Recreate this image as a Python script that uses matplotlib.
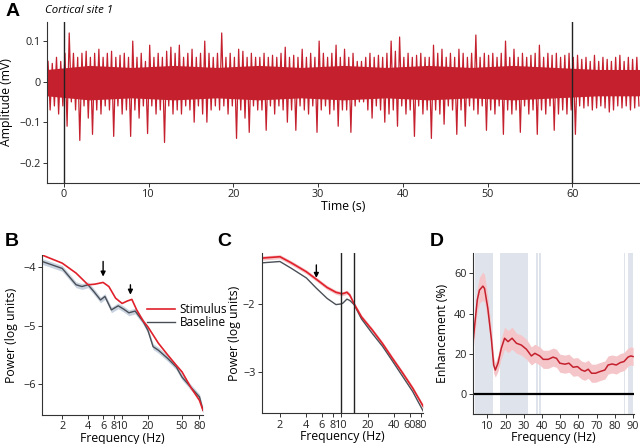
import numpy as np
import matplotlib
matplotlib.use("Agg")
import matplotlib.pyplot as plt
from matplotlib.ticker import FixedLocator, NullLocator

plt.rcParams["font.family"] = ["Open Sans", "DejaVu Sans"]
plt.rcParams["font.size"] = 8

RED = "#c4202d"
GRAY = "#4a4f57"
BAND = "#dfe4ec"
LABEL_SIZE = 8.8
TICK_SIZE = 7.8

# ---- A: raw trace, peak / trough per 0.5 s bin (mV), bins start at -2 s
trace_t0 = -2.0
trace_bin = 0.5
trace_hi = [
    0.05, 0.045, 0.06, 0.05, 0.07, 0.12, 0.07, 0.06, 0.07, 0.075,
    0.06, 0.07, 0.08, 0.06, 0.07, 0.075, 0.06, 0.065, 0.07, 0.06,
    0.10, 0.06, 0.07, 0.05, 0.09, 0.06, 0.07, 0.06, 0.075, 0.085,
    0.07, 0.09, 0.06, 0.07, 0.08, 0.06, 0.07, 0.10, 0.07, 0.06,
    0.07, 0.12, 0.06, 0.07, 0.06, 0.08, 0.075, 0.06, 0.07, 0.06,
    0.06, 0.07, 0.06, 0.065, 0.06, 0.07, 0.085, 0.06, 0.065, 0.06,
    0.08, 0.06, 0.07, 0.06, 0.10, 0.07, 0.06, 0.07, 0.09, 0.06,
    0.08, 0.06, 0.07, 0.05, 0.05, 0.06, 0.07, 0.06, 0.065, 0.06,
    0.07, 0.10, 0.075, 0.11, 0.06, 0.07, 0.06, 0.065, 0.07, 0.06,
    0.06, 0.09, 0.07, 0.08, 0.06, 0.07, 0.06, 0.08, 0.07, 0.06,
    0.07, 0.115, 0.06, 0.07, 0.065, 0.07, 0.06, 0.07, 0.10, 0.06,
    0.08, 0.06, 0.07, 0.06, 0.065, 0.07, 0.09, 0.06, 0.07, 0.065,
    0.07, 0.06, 0.065, 0.07, 0.06, 0.065, 0.055, 0.06, 0.05, 0.065,
    0.05, 0.06, 0.055, 0.05, 0.06, 0.065, 0.05, 0.06, 0.055, 0.06,
]
trace_lo = [
    -0.07, -0.06, -0.08, -0.06, -0.11, -0.05, -0.07, -0.145, -0.06, -0.09,
    -0.13, -0.07, -0.08, -0.06, -0.07, -0.135, -0.06, -0.08, -0.07, -0.135,
    -0.07, -0.09, -0.06, -0.128, -0.06, -0.08, -0.07, -0.15, -0.06, -0.08,
    -0.07, -0.08, -0.06, -0.07, -0.10, -0.06, -0.08, -0.10, -0.07, -0.06,
    -0.07, -0.06, -0.08, -0.06, -0.14, -0.07, -0.09, -0.125, -0.06, -0.07,
    -0.07, -0.12, -0.06, -0.08, -0.06, -0.07, -0.10, -0.07, -0.12, -0.06,
    -0.07, -0.08, -0.06, -0.125, -0.07, -0.06, -0.08, -0.07, -0.11, -0.07,
    -0.07, -0.125, -0.06, -0.05, -0.05, -0.07, -0.09, -0.06, -0.07, -0.10,
    -0.08, -0.07, -0.11, -0.06, -0.08, -0.07, -0.135, -0.06, -0.08, -0.07,
    -0.14, -0.07, -0.08, -0.105, -0.06, -0.07, -0.13, -0.07, -0.11, -0.06,
    -0.07, -0.08, -0.06, -0.12, -0.07, -0.08, -0.06, -0.13, -0.07, -0.08,
    -0.07, -0.125, -0.06, -0.08, -0.07, -0.13, -0.07, -0.08, -0.06, -0.12,
    -0.08, -0.07, -0.08, -0.07, -0.13, -0.06, -0.065, -0.06, -0.07, -0.065,
    -0.06, -0.065, -0.075, -0.07, -0.06, -0.065, -0.06, -0.07, -0.065, -0.06,
]
# dense core of the trace, read at 5 s steps from -2 s
core_bin = 5.0
core_hi = [0.03, 0.04, 0.035, 0.04, 0.035, 0.04, 0.035, 0.04, 0.035,
           0.04, 0.035, 0.04, 0.035, 0.03, 0.03]
core_lo = [-0.035, -0.045, -0.04, -0.045, -0.04, -0.045, -0.04, -0.045,
           -0.04, -0.045, -0.04, -0.045, -0.04, -0.035, -0.035]
stim_marks = [0, 60]

# ---- B: power spectra, cortical site (log units)
b_freq_stim = [1.16, 2, 2.9, 4, 4.8, 6, 7, 8.4, 10, 11.4, 13, 14.8, 17.6,
               20, 26.5, 34, 43, 50, 63, 80, 88]
b_stim = [-3.79, -3.93, -4.10, -4.30, -4.29, -4.26, -4.33, -4.53, -4.62,
          -4.58, -4.55, -4.73, -4.92, -5.02, -5.30, -5.50, -5.68, -5.79,
          -6.05, -6.28, -6.45]
b_freq_base = [1.16, 2, 2.9, 3.4, 4, 4.7, 5.6, 6.3, 7.5, 9, 10.5, 12, 14.2,
               17.6, 20, 23, 26.5, 34, 43, 50, 63, 80, 88]
b_base = [-3.90, -4.02, -4.30, -4.33, -4.30, -4.42, -4.56, -4.50, -4.73,
          -4.66, -4.72, -4.78, -4.75, -4.93, -5.08, -5.36, -5.42, -5.56,
          -5.71, -5.88, -6.05, -6.22, -6.45]
b_base_sem = 0.05
b_arrows = [(6, -3.90, -4.16), (12.5, -4.30, -4.47)]
b_ticks = [2, 4, 6, 8, 10, 20, 50, 80]

# ---- C: power spectra, second recording (log units)
c_freq = [1.24, 2, 2.7, 4, 5.2, 6.9, 8.7, 10, 10.4, 11.6, 12.5, 14, 17,
          22.5, 29.5, 38.5, 50, 65, 86]
c_stim = [-1.33, -1.31, -1.40, -1.53, -1.64, -1.76, -1.83, -1.85, -1.85,
          -1.83, -1.87, -2.00, -2.19, -2.38, -2.58, -2.80, -3.01, -3.23,
          -3.50]
c_base = [-1.40, -1.38, -1.48, -1.62, -1.77, -1.92, -2.01, -2.00, -1.99,
          -1.93, -1.95, -2.01, -2.22, -2.43, -2.62, -2.84, -3.06, -3.28,
          -3.57]
c_stim_sem = 0.03
c_bounds = [10, 14]
c_arrow = (5.2, -1.43, -1.62)
c_ticks = [2, 4, 6, 8, 10, 20, 40, 60, 80]

# ---- D: enhancement (%)
d_freq = [2.1, 3, 4.5, 5.7, 7.6, 8.5, 10.3, 12.3, 13.5, 14.4, 15.9, 17.7,
          19.5, 21.4, 23.6, 26, 28.7, 31.5, 34.2, 36.1, 38.8, 40.7, 43.4,
          46.1, 48, 49.8, 52.6, 54.8, 57.1, 59.5, 61.7, 63.5, 65.4, 67.2,
          69.4, 71.7, 74.5, 76.3, 78.5, 80.8, 83, 85, 87.2, 88.7, 90]
d_enh = [25.3, 33.5, 46.8, 51.7, 53.7, 52.5, 42.6, 26.9, 14.5, 12.0, 15.4,
         22.8, 27.8, 26.1, 27.8, 25.3, 24.4, 22.3, 19.0, 20.3, 19.0, 17.3,
         17.3, 18.4, 17.8, 15.4, 14.9, 15.4, 13.4, 13.7, 12.0, 11.4, 12.4,
         10.4, 10.4, 11.2, 12.0, 14.5, 15.0, 14.5, 15.7, 16.2, 18.4, 19.0,
         18.7]
d_sem = [4, 5, 6, 6.5, 7, 7, 6, 5, 4, 3.5, 4, 5, 5.5, 5.5, 5.5, 5, 5, 5,
         4.5, 4.5, 4.5, 4.5, 4.5, 4.5, 4.5, 4.5, 4.5, 4.5, 4.5, 4.5, 4.5,
         4.5, 4.5, 4.5, 4.5, 4.5, 4.5, 4.5, 4.5, 4.5, 4.5, 4.5, 4.5, 4.5,
         4.5]
d_sig_bands = [(3.3, 13.3), (17, 32.5), (37, 38), (38.5, 39.4),
               (84.9, 85.7), (87.3, 90)]


def style_axes(ax):
    for side in ("top", "right"):
        ax.spines[side].set_visible(False)
    for side in ("left", "bottom"):
        ax.spines[side].set_color("#333333")
        ax.spines[side].set_linewidth(0.8)
    ax.tick_params(direction="out", length=3, width=0.7, colors="#333333",
                   labelcolor="#222222", labelsize=TICK_SIZE, pad=1.5)


def log_freq_axis(ax, ticks, lim):
    ax.set_xscale("log")
    ax.set_xlim(*lim)
    ax.xaxis.set_major_locator(FixedLocator(ticks))
    ax.xaxis.set_minor_locator(NullLocator())
    ax.set_xticklabels([str(t) for t in ticks])


def down_arrow(ax, x, y0, y1):
    ax.annotate("", xy=(x, y1), xytext=(x, y0),
                arrowprops=dict(arrowstyle="-|>", color="black", lw=1.0,
                                mutation_scale=7, shrinkA=0, shrinkB=0))


fig = plt.figure(figsize=(6.4, 4.44), dpi=100)

# A
axA = fig.add_axes([0.0734, 0.5878, 0.9266, 0.3626])
core_t = trace_t0 + core_bin * np.arange(len(core_hi))
axA.fill_between(core_t, core_hi, core_lo, color=RED, lw=0)
n = len(trace_hi)
idx = np.arange(n)
t_hi = trace_t0 + trace_bin * idx + 0.125
t_lo = trace_t0 + trace_bin * idx + 0.375
t_all = np.ravel(np.column_stack([t_hi, t_lo]))
v_all = np.ravel(np.column_stack([trace_hi, trace_lo]))
axA.plot(t_all, v_all, color=RED, lw=0.9)
for m in stim_marks:
    axA.axvline(m, color="#222222", lw=1.0, zorder=3)
axA.set_xlim(-2, 68)
axA.set_ylim(-0.25, 0.147)
axA.set_xticks([0, 10, 20, 30, 40, 50, 60])
axA.set_yticks([0.1, 0, -0.1, -0.2])
axA.set_yticklabels(["0.1", "0", "\u22120.1", "\u22120.2"])
style_axes(axA)
axA.set_xlabel("Time (s)", fontsize=LABEL_SIZE, labelpad=0)
axA.set_ylabel("Amplitude (mV)", fontsize=LABEL_SIZE)
axA.yaxis.set_label_coords(-0.057, 0.5)

# B
axB = fig.add_axes([0.0656, 0.0653, 0.2516, 0.3604])
bf = np.array(b_freq_base)
bb = np.array(b_base)
axB.fill_between(bf, bb - b_base_sem, bb + b_base_sem, color="#c9d3e0",
                 lw=0)
axB.plot(bf, bb, color=GRAY, lw=1.0, label="Baseline")
axB.plot(b_freq_stim, b_stim, color="#e0202a", lw=1.2, label="Stimulus")
for x, y0, y1 in b_arrows:
    down_arrow(axB, x, y0, y1)
log_freq_axis(axB, b_ticks, (1.16, 88))
axB.set_ylim(-6.53, -3.79)
axB.set_yticks([-4, -5, -6])
axB.set_yticklabels(["\u22124", "\u22125", "\u22126"])
style_axes(axB)
axB.set_xlabel("Frequency (Hz)", fontsize=LABEL_SIZE, labelpad=-0.5)
axB.set_ylabel("Power (log units)", fontsize=LABEL_SIZE)
axB.yaxis.set_label_coords(-0.15, 0.5)
h, l = axB.get_legend_handles_labels()
axB.legend(h[::-1], l[::-1], loc="upper left",
           bbox_to_anchor=(0.62, 0.73), frameon=False, fontsize=8.5,
           handlelength=2.4, handletextpad=0.4, labelspacing=0.0,
           borderaxespad=0)

# C
axC = fig.add_axes([0.4089, 0.0691, 0.2525, 0.3604])
cf = np.array(c_freq)
cs = np.array(c_stim)
axC.fill_between(cf, cs - c_stim_sem, cs + c_stim_sem, color="#f6c3c6",
                 lw=0)
axC.plot(cf, c_base, color=GRAY, lw=1.0)
axC.plot(cf, cs, color="#e0202a", lw=1.2)
for b in c_bounds:
    axC.axvline(b, color="#222222", lw=1.0)
down_arrow(axC, *c_arrow)
log_freq_axis(axC, c_ticks, (1.24, 86))
axC.set_ylim(-3.60, -1.26)
axC.set_yticks([-2, -3])
axC.set_yticklabels(["\u22122", "\u22123"])
style_axes(axC)
axC.set_xlabel("Frequency (Hz)", fontsize=LABEL_SIZE, labelpad=-0.5)
axC.set_ylabel("Power (log units)", fontsize=LABEL_SIZE)
axC.yaxis.set_label_coords(-0.125, 0.5)

# D
axD = fig.add_axes([0.7386, 0.0669, 0.252, 0.3626])
for lo, hi in d_sig_bands:
    axD.axvspan(lo, hi, color=BAND, lw=0)
df = np.array(d_freq)
de = np.array(d_enh)
ds = np.array(d_sem)
axD.fill_between(df, de - ds, de + ds, color="#f5c6c9", lw=0)
axD.plot(df, de, color=RED, lw=1.1)
axD.axhline(0, color="black", lw=1.6)
axD.set_xlim(2, 90.5)
axD.set_ylim(-10, 70)
axD.set_xticks([10, 20, 30, 40, 50, 60, 70, 80, 90])
axD.set_yticks([0, 20, 40, 60])
style_axes(axD)
axD.set_xlabel("Frequency (Hz)", fontsize=LABEL_SIZE, labelpad=-0.5)
axD.set_ylabel("Enhancement (%)", fontsize=LABEL_SIZE)
axD.yaxis.set_label_coords(-0.15, 0.5)

# panel letters and title
fig.text(0.008, 0.975, "A", fontsize=14, fontweight="bold", va="center",
         family=["Liberation Sans", "DejaVu Sans"])
fig.text(0.070, 0.977, "Cortical site 1", fontsize=8.2, style="italic",
         va="center")
for x, lab in [(0.008, "B"), (0.340, "C"), (0.672, "D")]:
    fig.text(x, 0.455, lab, fontsize=14, fontweight="bold", va="center",
             family=["Liberation Sans", "DejaVu Sans"])

fig.savefig("out.png", dpi=100)
